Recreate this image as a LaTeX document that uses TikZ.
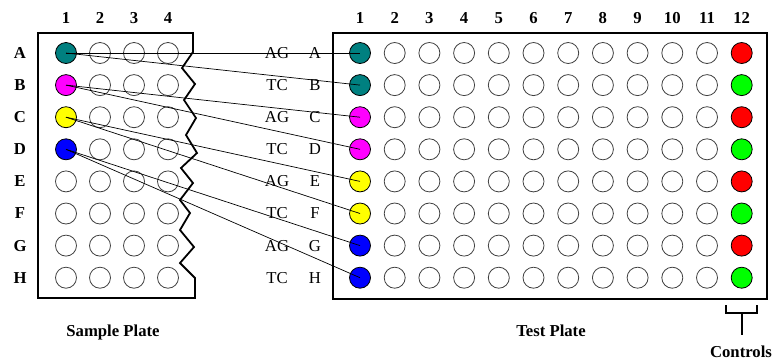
\documentclass[tikz,border=0pt]{standalone}
\usepackage{fontspec}
\setmainfont{Liberation Serif}
\definecolor{wteal}{RGB}{0,128,128}
\definecolor{wmagenta}{RGB}{255,0,255}
\definecolor{wyellow}{RGB}{255,255,0}
\definecolor{wblue}{RGB}{0,0,255}
\definecolor{wred}{RGB}{255,0,0}
\definecolor{wgreen}{RGB}{0,255,0}
\begin{document}
\begin{tikzpicture}[x=1pt,y=-1pt,
  well/.style={circle,draw=black!75,line width=0.8pt,minimum size=21pt,inner sep=0pt,fill=white},
  filled/.style={fill=#1,draw=black},
  with-teal/.style={filled=wteal},
  with-magenta/.style={filled=wmagenta},
  with-yellow/.style={filled=wyellow},
  with-blue/.style={filled=wblue},
  with-red/.style={filled=wred},
  with-green/.style={filled=wgreen},
  with-none/.style={},
  plate/.style={line width=1.8pt,line join=miter},
  link/.style={line width=0.7pt},
  txt/.style={font=\fontsize{16.7}{19}\selectfont,inner sep=0pt},
  btxt/.style={font=\fontsize{16.7}{19}\selectfont\bfseries,inner sep=0pt}]
\useasboundingbox (0,0) rectangle (773,360);

% sample plate outline with torn right edge
\draw[plate] (38,33) -- (193,33) -- (193,52) -- (182,68) -- (195,84) -- (184,100)
  -- (196,118) -- (186,135) -- (197,153) -- (181,168) -- (193,183) -- (180,200)
  -- (190,213) -- (180,230) -- (194,247) -- (180,263) -- (195,278) -- (195,298)
  -- (38,298) -- cycle;

% test plate outline
\draw[plate] (333,33) rectangle (767,299);

% column numbers
\foreach \c in {1,...,4}
  \node[btxt] (sc\c) at ({66+(\c-1)*34},18) {\c};
\foreach \c in {1,...,12}
  \node[btxt] (tc\c) at ({360+(\c-1)*34.7},18) {\c};

% rows: test colour in column 1, control colour, primer
\foreach \r/\tc/\kc/\pr [count=\i] in
  {A/teal/red/AG, B/teal/green/TC, C/magenta/red/AG, D/magenta/green/TC,
   E/yellow/red/AG, F/yellow/green/TC, G/blue/red/AG, H/blue/green/TC}{
  \pgfmathsetmacro\yy{53+(\i-1)*32.1}
  \node[btxt] (sl\r) at (20,\yy) {\r};
  \node[txt] (tp\r) at (277,\yy) {\pr};
  \node[txt] (tl\r) at (315,\yy) {\r};
  \foreach \c in {2,...,4}
    \node[well] (s\r\c) at ({66+(\c-1)*34},\yy) {};
  \node[well,with-\tc] (t\r1) at (360,\yy) {};
  \foreach \c in {2,...,11}
    \node[well] (t\r\c) at ({360+(\c-1)*34.7},\yy) {};
  \node[well,with-\kc] (t\r12) at ({360+11*34.7},\yy) {};
}
% sample column 1
\foreach \r/\sc [count=\i] in {A/teal,B/magenta,C/yellow,D/blue,E/none,F/none,G/none,H/none}
  \node[well,with-\sc] (s\r1) at (66,{53+(\i-1)*32.1}) {};

% transfers from the sample plate to the test plate
\foreach \s/\a/\b in {A/A/B, B/C/D, C/E/F, D/G/H}{
  \draw[link] (s\s1.center) -- (t\a1.center);
  \draw[link] (s\s1.center) -- (t\b1.center);
}

% captions
\node[btxt] (samplecap) at (113,332) {Sample Plate};
\node[btxt] (testcap) at (551,331) {Test Plate};
\node[btxt] (ctl) at (741,352) {Controls};

% controls bracket
\draw[plate] (726,305) -- (726,313) -- (757,313) -- (757,305);
\coordinate (stem) at (742,313);
\draw[plate] (stem) -- (742,335);
\end{tikzpicture}
\end{document}
